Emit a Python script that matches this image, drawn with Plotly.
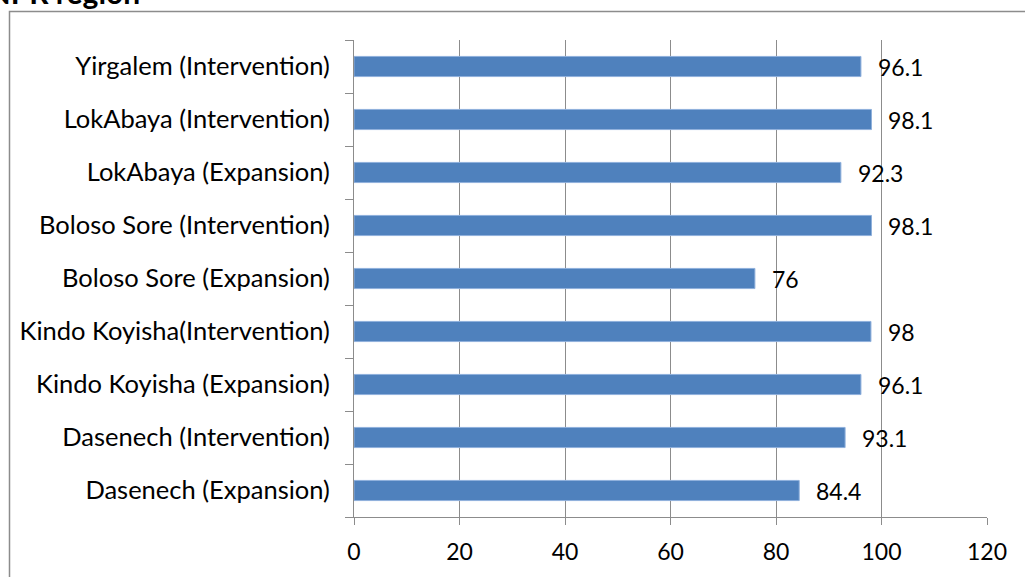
import plotly.graph_objects as go

categories = [
    "Dasenech (Expansion)",
    "Dasenech (Intervention)",
    "Kindo Koyisha (Expansion)",
    "Kindo Koyisha(Intervention)",
    "Boloso Sore (Expansion)",
    "Boloso Sore (Intervention)",
    "LokAbaya (Expansion)",
    "LokAbaya (Intervention)",
    "Yirgalem (Intervention)",
]
values = [84.4, 93.1, 96.1, 98, 76, 98.1, 92.3, 98.1, 96.1]
value_labels = ["84.4", "93.1", "96.1", "98", "76", "98.1", "92.3", "98.1", "96.1"]
x_ticks = [0, 20, 40, 60, 80, 100, 120]
title_text = "SNNPR region"

FONT = "Lato"
W, H = 1025, 577
L, R, T, B = 354, 38, 40, 60
plot_w = W - L - R
plot_h = H - T - B

fig = go.Figure()
fig.add_trace(go.Bar(
    y=categories, x=values, orientation="h",
    marker=dict(color="#4F81BD", line=dict(color="#8FB0DC", width=1)),
    hoverinfo="x+y",
))

for c, v, lab in zip(categories, values, value_labels):
    fig.add_annotation(x=v, y=c, text=lab, showarrow=False, xanchor="left",
                       xshift=15, yshift=0,
                       font=dict(family=FONT, size=23, color="#000000"))

# cropped title at top-left
fig.add_annotation(xref="paper", yref="paper", x=(142 - L) / plot_w,
                   y=1 + (T - 12) / plot_h, xanchor="right", yanchor="bottom",
                   text="<b>" + title_text + "</b>", showarrow=False,
                   font=dict(family=FONT, size=30, color="#000000"))

# outer chart border
fig.add_shape(type="rect", xref="paper", yref="paper",
              x0=(9.5 - L) / plot_w, x1=(W + 20 - L) / plot_w,
              y0=-(B + 20) / plot_h, y1=1 + (T - 11.5) / plot_h,
              line=dict(color="#8C8C8C", width=1.5), layer="below")

fig.update_layout(
    width=W, height=H,
    margin=dict(l=L, r=R, t=T, b=B),
    paper_bgcolor="white", plot_bgcolor="white",
    showlegend=False, bargap=0.62,
    font=dict(family=FONT, size=25, color="#000000"),
    xaxis=dict(range=[0, 120], tickvals=x_ticks, showgrid=True,
               gridcolor="#8C8C8C", gridwidth=1, zeroline=False,
               showline=True, linecolor="#8C8C8C", linewidth=1,
               ticks="outside", ticklen=7, tickcolor="#8C8C8C",
               tickfont=dict(family=FONT, size=23), ticklabelstandoff=7),
    yaxis=dict(categoryorder="array", categoryarray=categories,
               showgrid=False, zeroline=False, showline=True,
               linecolor="#8C8C8C", linewidth=1, ticks="outside",
               tickson="boundaries", ticklen=8, tickcolor="#8C8C8C",
               tickfont=dict(family=FONT, size=25.5), ticklabelstandoff=18),
)

fig.write_html("out.html")
